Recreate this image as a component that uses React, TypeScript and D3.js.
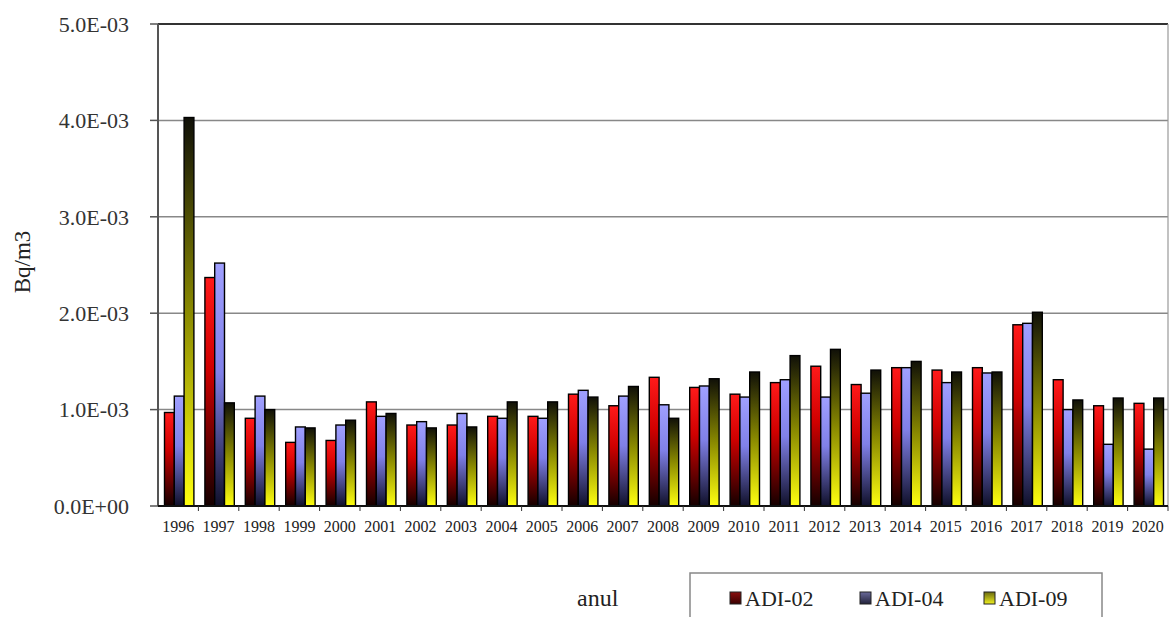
import React from "react";
import * as d3 from "d3";

const years = ["1996","1997","1998","1999","2000","2001","2002","2003","2004","2005","2006","2007","2008","2009","2010","2011","2012","2013","2014","2015","2016","2017","2018","2019","2020"];
// values in units of 1E-03 Bq/m3
const adi02 = [0.97,2.37,0.91,0.66,0.68,1.08,0.84,0.84,0.93,0.93,1.16,1.04,1.335,1.23,1.16,1.28,1.45,1.26,1.435,1.41,1.435,1.88,1.31,1.04,1.065];
const adi04 = [1.14,2.52,1.14,0.82,0.84,0.93,0.875,0.96,0.91,0.91,1.20,1.14,1.05,1.245,1.13,1.31,1.13,1.17,1.435,1.28,1.38,1.895,1.0,0.64,0.59];
const adi09 = [4.03,1.07,1.0,0.81,0.89,0.96,0.81,0.82,1.08,1.08,1.13,1.24,0.91,1.32,1.39,1.56,1.625,1.41,1.50,1.39,1.39,2.01,1.10,1.12,1.12];
const seriesNames = ["ADI-02","ADI-04","ADI-09"];
const yTicks = [0,1,2,3,4,5];
const yTickLabels = ["0.0E+00","1.0E-03","2.0E-03","3.0E-03","4.0E-03","5.0E-03"];

const W = 1171, H = 617;
const left = 158, right = 1168, top = 24, bottom = 506;

export default function App() {
  const x = d3.scaleBand<string>().domain(years).range([left, right]).paddingInner(0).paddingOuter(0);
  const y = d3.scaleLinear().domain([0, 5]).range([bottom, top]);
  const series = [adi02, adi04, adi09];
  const bw = 9.8;
  const groupW = bw * 3;
  const grads = ["gRed", "gBlue", "gYel"];
  const legGrads = ["lRed", "lBlue", "lYel"];
  const serif = "Liberation Serif, serif";
  const legX = [730, 860, 984];

  return (
    <svg width={W} height={H} style={{ position: "absolute", left: 0, top: 0, background: "#fff" }} fontFamily={serif}>
      <defs>
        <linearGradient id="gRed" x1="0" y1="0" x2="0" y2="1">
          <stop offset="0" stopColor="#ff1a1a" />
          <stop offset="0.4" stopColor="#d00000" />
          <stop offset="1" stopColor="#140000" />
        </linearGradient>
        <linearGradient id="gBlue" x1="0" y1="0" x2="0" y2="1">
          <stop offset="0" stopColor="#a0a0ff" />
          <stop offset="0.45" stopColor="#8080e8" />
          <stop offset="1" stopColor="#10102a" />
        </linearGradient>
        <linearGradient id="gYel" x1="0" y1="0" x2="0" y2="1">
          <stop offset="0" stopColor="#101008" />
          <stop offset="0.5" stopColor="#8a8a00" />
          <stop offset="1" stopColor="#ffff10" />
        </linearGradient>
        <linearGradient id="lRed" x1="0" y1="0" x2="0" y2="1">
          <stop offset="0" stopColor="#8a1010" />
          <stop offset="1" stopColor="#3a0000" />
        </linearGradient>
        <linearGradient id="lBlue" x1="0" y1="0" x2="0" y2="1">
          <stop offset="0" stopColor="#6a6a9a" />
          <stop offset="1" stopColor="#22223a" />
        </linearGradient>
        <linearGradient id="lYel" x1="0" y1="0" x2="0" y2="1">
          <stop offset="0" stopColor="#6a6a10" />
          <stop offset="1" stopColor="#f0f020" />
        </linearGradient>
      </defs>

      {/* gridlines */}
      {yTicks.filter(t => t > 0).map(t => (
        <line key={t} x1={left} x2={right} y1={y(t)} y2={y(t)} stroke={t === 5 ? "#333" : "#888"} strokeWidth={t === 5 ? 2 : 1.5} />
      ))}
      {/* right frame */}
      <line x1={right} x2={right} y1={top} y2={bottom} stroke="#999" strokeWidth={1.2} />

      {/* bars */}
      {years.map((yr, i) => {
        const gx = (x(yr) as number) + (x.bandwidth() - groupW) / 2 + 1;
        return series.map((s, k) => (
          <rect key={yr + k} x={gx + k * bw} y={y(s[i])} width={bw} height={bottom - y(s[i])}
            fill={`url(#${grads[k]})`} stroke="#000" strokeWidth={1.4} />
        ));
      })}

      {/* y axis */}
      <line x1={left} x2={left} y1={top} y2={bottom} stroke="#555" strokeWidth={2} />
      {yTicks.map((t, i) => (
        <g key={t}>
          <line x1={left - 8} x2={left} y1={y(t)} y2={y(t)} stroke="#555" strokeWidth={1.5} />
          <text x={129} y={y(t)} dy="0.35em" textAnchor="end" fontSize={22} fill="#333">{yTickLabels[i]}</text>
        </g>
      ))}
      <text transform={`translate(30,262) rotate(-90)`} textAnchor="middle" fontSize={23} fill="#222">Bq/m3</text>

      {/* x axis */}
      <line x1={left} x2={right} y1={bottom} y2={bottom} stroke="#111" strokeWidth={2} />
      {years.map(yr => (
        <line key={"t" + yr} x1={(x(yr) as number) + x.bandwidth()} x2={(x(yr) as number) + x.bandwidth()} y1={bottom} y2={bottom + 5} stroke="#333" strokeWidth={1} />
      ))}
      {years.map(yr => (
        <text key={"l" + yr} x={(x(yr) as number) + x.bandwidth() / 2} y={526} dy="0.35em" textAnchor="middle" fontSize={16} fill="#222">{yr}</text>
      ))}

      {/* axis title & legend */}
      <text x={577} y={606} fontSize={24} fill="#222">anul</text>
      <rect x={690} y={573} width={412} height={60} fill="#fff" stroke="#888" strokeWidth={1.5} />
      {seriesNames.map((n, k) => (
        <g key={n}>
          <rect x={legX[k]} y={592} width={11} height={12} fill={`url(#${legGrads[k]})`} stroke="#222" strokeWidth={1} />
          <text x={legX[k] + 15} y={606} fontSize={22} fill="#222">{n}</text>
        </g>
      ))}
    </svg>
  );
}
